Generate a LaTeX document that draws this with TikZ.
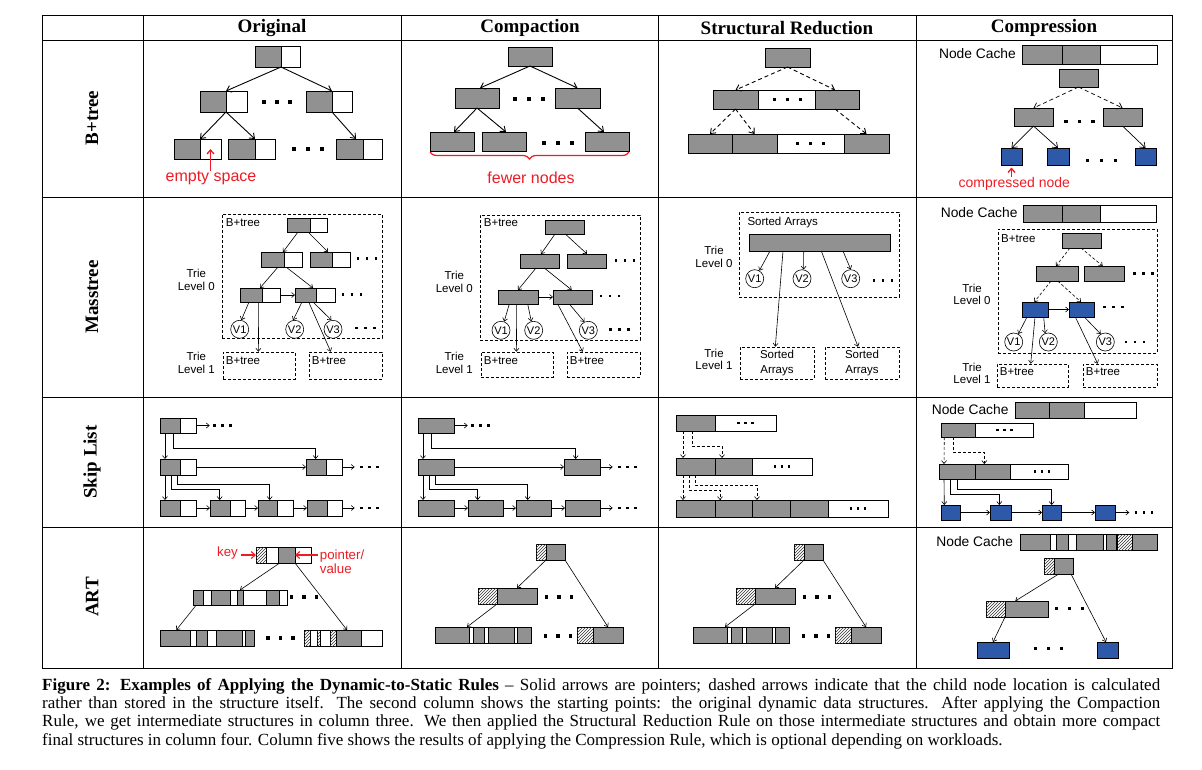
\documentclass[tikz,border=0pt]{standalone}
\usepackage{fontspec}
\setmainfont{Liberation Serif}
\newfontfamily\arial{Liberation Sans}
\usetikzlibrary{arrows.meta,patterns,decorations.pathreplacing}
\definecolor{ngray}{RGB}{145,145,145}
\definecolor{nblue}{RGB}{46,88,168}
\definecolor{nred}{RGB}{237,28,36}
\newcommand\mkbox[6]{\node[#2,minimum width={#5-#3},minimum height={#6-#4}] (#1) at ({(#3+#5)/2},{(#4+#6)/2}) {};}
\newcommand\tdots[4]{\foreach \k in {-1,0,1}{\fill ({#1+\k*#3-#4/2},{#2-#4/2}) rectangle ++(#4,#4);}}
\tikzset{
 cell/.style={draw, line width=0.8pt, inner sep=0pt, outer sep=0pt},
 gn/.style={cell, fill=ngray},
 wn/.style={cell, fill=white},
 bn/.style={cell, fill=nblue},
 hn/.style={cell, fill=white, postaction={pattern=north east lines, pattern color=black!80}},
 dbox/.style={draw, line width=0.6pt, inner sep=0pt, dash pattern=on 3pt off 2pt},
 arr/.style={draw, line width=0.9pt, -{Straight Barb[length=4.5pt,width=7pt]}},
 darr/.style={arr, dash pattern=on 4pt off 3pt},
 sarr/.style={draw, line width=0.6pt, -{Straight Barb[length=3pt,width=5pt]}},
 dsarr/.style={sarr, dash pattern=on 3pt off 2pt},
 rarr/.style={draw=nred, line width=1.3pt, -{Straight Barb[length=4pt,width=7pt]}},
 lbl/.style={font=\arial\fontsize{11.5}{12.7}\selectfont, inner sep=0pt, align=center},
 lblb/.style={font=\arial\fontsize{11.5}{14.7}\selectfont, inner sep=0pt, align=center},
 lblc/.style={font=\arial\fontsize{13.8}{16}\selectfont, inner sep=0pt},
 vc/.style={circle, draw, line width=0.6pt, minimum size=18pt, inner sep=0pt, font=\arial\fontsize{11}{12}\selectfont},
 rl16/.style={text=nred, font=\arial\fontsize{16}{18}\selectfont, inner sep=0pt},
 rl14/.style={text=nred, font=\arial\fontsize{14}{16}\selectfont, inner sep=0pt},
 rl13/.style={text=nred, font=\arial\fontsize{13.3}{14.4}\selectfont, inner sep=0pt, align=left},
 hdr/.style={font=\bfseries\fontsize{19}{22}\selectfont, inner sep=0pt},
 capl/.style={anchor=base west, inner sep=0pt, font=\fontsize{17}{18}\selectfont},
}
\begin{document}
\begin{tikzpicture}[x=1pt,y=-1pt]
\useasboundingbox (0,0) rectangle (1202,769);
% grid
\draw[line width=0.8pt] (42,15) rectangle (1172,668);
\foreach \y in {40,197,397,527} \draw[line width=0.8pt] (42,\y) -- (1172,\y);
\foreach \x in {143,401,658,916} \draw[line width=0.8pt] (\x,15) -- (\x,668);
\node[hdr] (h1) at (272,28) {Original};
\node[hdr] (h2) at (530,28) {Compaction};
\node[hdr] (h3) at (787,28) {Structural Reduction};
\node[hdr] (h4) at (1044,28) {Compression};
\node[hdr, rotate=90] (r1) at (92,118) {B+tree};
\node[hdr, rotate=90] (r2) at (92,297) {Masstree};
\node[hdr, rotate=90] (r3) at (92,462) {Skip List};
\node[hdr, rotate=90] (r4) at (92,597) {ART};

% ===== B+tree original
\mkbox{oR}{gn}{255}{46}{281}{67} \mkbox{oRw}{wn}{281}{46}{300}{67}
\mkbox{oA}{gn}{200}{91}{226}{112} \mkbox{oAw}{wn}{226}{91}{247}{112}
\mkbox{oB}{gn}{306}{91}{332}{112} \mkbox{oBw}{wn}{332}{91}{352}{112}
\mkbox{oC}{gn}{174}{139}{200}{159} \mkbox{oCw}{wn}{200}{139}{221}{159}
\mkbox{oD}{gn}{228}{139}{255}{159} \mkbox{oDw}{wn}{255}{139}{275}{159}
\mkbox{oE}{gn}{336}{139}{363}{159} \mkbox{oEw}{wn}{363}{139}{382}{159}
\tdots{277}{102}{13}{4}
\tdots{307.5}{149}{14}{4}
\draw[arr] (oR.south east) -- (oA.north east);
\draw[arr] (oR.south east) -- (oB.north east);
\draw[arr] (oA.south east) -- (oC.north east);
\draw[arr] (oA.south east) -- (oD.north east);
\draw[arr] (oB.south east) -- ([xshift=-7pt]oE.north east);
\node[rl16] (oL) at (211,178) {empty space};
\draw[rarr] (oL.north -| oCw.center) -- (oCw.center);

% ===== B+tree compaction
\mkbox{cR}{gn}{508}{47}{552}{66}
\mkbox{cA}{gn}{455}{88}{499}{108}
\mkbox{cB}{gn}{555}{88}{600}{108}
\mkbox{cC}{gn}{430}{132}{474}{151}
\mkbox{cD}{gn}{482}{132}{526}{151}
\mkbox{cE}{gn}{585}{132}{629}{151}
\tdots{529}{99}{14}{4}
\tdots{558}{143}{14}{4}
\draw[arr] (cR.south) -- ([xshift=3pt]cA.north);
\draw[arr] (cR.south) -- (cB.north);
\draw[arr] (cA.south) -- ([xshift=2pt]cC.north);
\draw[arr] (cA.south) -- ([xshift=2pt]cD.north);
\draw[arr] (cB.south) -- ([xshift=-3pt]cE.north);
\draw[nred, line width=1.2pt, decorate, decoration={brace, mirror, amplitude=7pt}] ([yshift=-1pt]cC.south west) -- ([yshift=-1pt]cE.south east);
\node[rl16] (cL) at (531,177.3) {fewer nodes};

% ===== B+tree structural reduction
\mkbox{sR}{gn}{765}{48}{810}{67}
\mkbox{sA}{gn}{713}{90}{758}{109} \mkbox{sAw}{wn}{758}{90}{815}{109} \mkbox{sB}{gn}{815}{90}{859}{109}
\mkbox{sC}{gn}{688}{134}{732}{153} \mkbox{sD}{gn}{732}{134}{777}{153} \mkbox{sDw}{wn}{777}{134}{844}{153} \mkbox{sE}{gn}{844}{134}{889}{153}
\tdots{787.3}{99.7}{13}{3.5}
\tdots{810.7}{143.7}{13}{3.5}
\draw[darr] (sR.south) -- (sA.north);
\draw[darr] (sR.south) -- ([xshift=-2pt]sB.north);
\draw[darr] (sA.south) -- (sC.north);
\draw[darr] (sA.south) -- (sD.north);
\draw[darr] ([xshift=-2pt]sB.south) -- (sE.north);

% ===== B+tree compression
\node[lblc, anchor=east] (nc1) at (1016,53.3) {Node Cache};
\mkbox{k1a}{gn}{1022}{45}{1062}{64} \mkbox{k1b}{gn}{1062}{45}{1100}{64} \mkbox{k1c}{wn}{1100}{45}{1157}{64}
\mkbox{pR}{gn}{1059}{69}{1098}{87}
\mkbox{pA}{gn}{1014}{108}{1053}{126}
\mkbox{pB}{gn}{1103}{108}{1142}{126}
\mkbox{pC}{bn}{1001}{148}{1022}{165}
\mkbox{pD}{bn}{1047}{148}{1069}{165}
\mkbox{pE}{bn}{1135}{148}{1156}{165}
\tdots{1079.5}{121.7}{13.5}{3.5}
\tdots{1101.5}{160.7}{13.8}{3.5}
\draw[darr, line width=0.7pt] (pR.south) -- (pA.north);
\draw[darr, line width=0.7pt] (pR.south) -- (pB.north);
\draw[arr, line width=0.7pt] (pA.south) -- (pC.north);
\draw[arr, line width=0.7pt] (pA.south) -- (pD.north);
\draw[arr, line width=0.7pt] (pB.south) -- (pE.north);
\node[rl14] (pL) at (1014.3,184) {compressed node};
\draw[rarr] (pL.north -| pC.south) -- ([yshift=-2.5pt]pC.south);

% ===== Masstree original
\mkbox{mT}{dbox}{222}{214}{382}{338}
\node[lbl, anchor=west] (mTl) at (225.7,223) {B+tree};
\mkbox{mR}{gn}{287}{218}{310}{232} \mkbox{mRw}{wn}{310}{218}{327}{232}
\mkbox{mA}{gn}{261}{252}{284}{267} \mkbox{mAw}{wn}{284}{252}{302}{267}
\mkbox{mB}{gn}{310}{252}{332}{267} \mkbox{mBw}{wn}{332}{252}{350}{267}
\mkbox{mC}{gn}{240}{288}{262}{302} \mkbox{mCw}{wn}{262}{288}{280}{302}
\mkbox{mD}{gn}{295}{288}{316}{302} \mkbox{mDw}{wn}{316}{288}{335}{302}
\node[vc] (mV1) at (239.7,329.3) {V1};
\node[vc] (mV2) at (294.7,329.3) {V2};
\node[vc] (mV3) at (333,329.3) {V3};
\tdots{367}{258.7}{9}{2.5} \tdots{352}{294.7}{9}{2.5} \tdots{365.5}{328}{9}{2.5}
\mkbox{mL1}{dbox}{223}{352}{295}{379} \mkbox{mL2}{dbox}{309}{352}{382}{379}
\node[lbl, anchor=west] (mL1t) at (225.7,360.3) {B+tree};
\node[lbl, anchor=west] (mL2t) at (311.7,360.3) {B+tree};
\node[lbl] (mT0) at (196.3,280) {Trie\\Level 0};
\node[lbl] (mT1) at (196.3,362.7) {Trie\\Level 1};
\draw[sarr] ([xshift=-12pt]mR.south east) -- ([xshift=-1pt]mA.north east);
\draw[sarr] ([xshift=-2pt]mR.south east) -- ([xshift=-4pt]mB.north east);
\draw[sarr] ([xshift=-6pt]mA.south east) -- ([xshift=-2pt]mC.north east);
\draw[sarr] ([xshift=2pt]mA.south east) -- ([xshift=-3pt]mD.north east);
\draw[sarr] (mCw.east) -- (mD.west);
\draw[sarr] ([xshift=-13pt]mC.south east) -- (mV1.80);
\draw[sarr] ([xshift=-3.3pt]mC.south east) -- ([xshift=35.7pt]mL1.north west);
\draw[sarr] ([xshift=-14pt]mD.south east) -- (mV2.100);
\draw[sarr] ([xshift=-7.3pt]mD.south east) -- ([xshift=22pt]mL2.north west);
\draw[sarr] ([xshift=-3pt]mD.south east) -- (mV3.100);

% ===== Masstree compaction
\mkbox{nT}{dbox}{480}{215}{640}{340}
\node[lbl, anchor=west] (nTl) at (483.7,223) {B+tree};
\mkbox{nR}{gn}{545}{220}{584}{234}
\mkbox{nA}{gn}{520}{254}{559}{268}
\mkbox{nB}{gn}{567}{254}{606}{268}
\mkbox{nC}{gn}{498}{290}{538}{304}
\mkbox{nD}{gn}{553}{290}{592}{304}
\node[vc] (nV1) at (501,330.3) {V1};
\node[vc] (nV2) at (533.7,330.3) {V2};
\node[vc] (nV3) at (588.3,330.3) {V3};
\tdots{625}{260.3}{9}{2.5} \tdots{610}{296}{9}{2.5} \tdots{619.3}{329.7}{9}{2.5}
\mkbox{nL1}{dbox}{481}{352}{553}{377} \mkbox{nL2}{dbox}{567}{352}{640}{377}
\node[lbl, anchor=west] (nL1t) at (483.7,360.3) {B+tree};
\node[lbl, anchor=west] (nL2t) at (569.7,360.3) {B+tree};
\node[lbl] (nT0) at (454.3,282) {Trie\\Level 0};
\node[lbl] (nT1) at (454.3,362.7) {Trie\\Level 1};
\draw[sarr] ([xshift=-9.5pt]nR.south) -- ([xshift=1.5pt]nA.north);
\draw[sarr] ([xshift=0.8pt]nR.south) -- ([xshift=0.5pt]nB.north);
\draw[sarr] ([xshift=-3.5pt]nA.south) -- (nC.north);
\draw[sarr] ([xshift=4.8pt]nA.south) -- ([xshift=-0.8pt]nD.north);
\draw[sarr] (nC.east) -- (nD.west);
\draw[sarr] ([xshift=-8.7pt]nC.south) -- (nV1.70);
\draw[sarr] ([xshift=-1.3pt]nC.south) -- ([xshift=35.7pt]nL1.north west);
\draw[sarr] ([xshift=9.7pt]nC.south) -- (nV2.105);
\draw[sarr] ([xshift=-14.8pt]nD.south) -- ([xshift=16pt]nL2.north west);
\draw[sarr] ([xshift=-3.2pt]nD.south) -- (nV3.115);

% ===== Masstree structural reduction
\mkbox{tT}{dbox}{739}{212}{899}{297}
\node[lbl, anchor=west] (tTl) at (747.3,223) {Sorted Arrays};
\mkbox{tA}{gn}{749}{234}{890}{251}
\node[vc] (tV1) at (754.7,278.7) {V1};
\node[vc] (tV2) at (802,278.7) {V2};
\node[vc] (tV3) at (850.7,278.7) {V3};
\tdots{883}{280.3}{9}{2.5}
\mkbox{tL1}{dbox}{740}{347}{814}{379} \mkbox{tL2}{dbox}{825}{347}{899}{379}
\node[lblb] (tL1t) at (tL1.center) {Sorted\\Arrays};
\node[lblb] (tL2t) at (tL2.center) {Sorted\\Arrays};
\node[lbl] (tT0) at (714,256.7) {Trie\\Level 0};
\node[lbl] (tT1) at (714,359.3) {Trie\\Level 1};
\draw[sarr] ([xshift=21pt]tA.south west) -- (tV1.60);
\draw[sarr] ([xshift=54.7pt]tA.south west) -- (tV2.80);
\draw[sarr] ([xshift=94pt]tA.south west) -- (tV3.north);
\draw[sarr] ([xshift=34pt]tA.south west) -- ([xshift=35.6pt]tL1.north west);
\draw[sarr] ([xshift=72.3pt]tA.south west) -- ([xshift=33.3pt]tL2.north west);

% ===== Masstree compression
\node[lblc, anchor=east] (nc2) at (1017.7,213) {Node Cache};
\mkbox{k2a}{gn}{1023}{205}{1062}{222} \mkbox{k2b}{gn}{1062}{205}{1100}{222} \mkbox{k2c}{wn}{1100}{205}{1156}{222}
\mkbox{uT}{dbox}{998}{229}{1157}{353}
\node[lbl, anchor=west] (uTl) at (1001,238.7) {B+tree};
\mkbox{uR}{gn}{1062}{233}{1101}{248}
\mkbox{uA}{gn}{1036}{266}{1078}{281}
\mkbox{uB}{gn}{1084}{266}{1124}{281}
\mkbox{uC}{bn}{1022}{302}{1048}{317}
\mkbox{uD}{bn}{1069}{302}{1094}{317}
\node[vc] (uV1) at (1013.7,342) {V1};
\node[vc] (uV2) at (1048.3,342) {V2};
\node[vc] (uV3) at (1105.3,342) {V3};
\tdots{1143.5}{273.7}{9}{2.5} \tdots{1113.5}{307}{9}{2.5} \tdots{1135}{342}{9}{2.5}
\mkbox{uL1}{dbox}{997}{364}{1068}{387} \mkbox{uL2}{dbox}{1083}{364}{1157}{387}
\node[lbl, anchor=west] (uL1t) at (999.7,371.3) {B+tree};
\node[lbl, anchor=west] (uL2t) at (1085.7,371.3) {B+tree};
\node[lbl] (uT0) at (972,294.3) {Trie\\Level 0};
\node[lbl] (uT1) at (972,373.3) {Trie\\Level 1};
\draw[dsarr] ([xshift=-11.5pt]uR.south) -- ([xshift=-1pt]uA.north);
\draw[dsarr] ([xshift=-0.5pt]uR.south) -- ([xshift=-1.3pt]uB.north);
\draw[dsarr] ([xshift=-6pt]uA.south) -- ([xshift=-0.7pt]uC.north);
\draw[dsarr] ([xshift=0.7pt]uA.south) -- ([xshift=-0.5pt]uD.north);
\draw[sarr] (uC.east) -- (uD.west);
\draw[sarr] ([xshift=-8pt]uC.south) -- (uV1.60);
\draw[sarr] (uC.south) -- ([xshift=34pt]uL1.north west);
\draw[sarr] ([xshift=8.7pt]uC.south) -- (uV2.110);
\draw[sarr] ([xshift=-6.2pt]uD.south) -- ([xshift=15pt]uL2.north west);
\draw[sarr] ([xshift=2.8pt]uD.south) -- (uV3.120);

% ===== Skip list original
\mkbox{a1}{gn}{160}{418}{180}{433} \mkbox{a1w}{wn}{180}{418}{196}{433}
\mkbox{b1}{gn}{160}{459}{180}{475} \mkbox{b1w}{wn}{180}{459}{196}{475}
\mkbox{b2}{gn}{306}{459}{326}{475} \mkbox{b2w}{wn}{326}{459}{342}{475}
\mkbox{c1}{gn}{160}{500}{180}{516} \mkbox{c1w}{wn}{180}{500}{196}{516}
\mkbox{c2}{gn}{210}{500}{230}{516} \mkbox{c2w}{wn}{230}{500}{245}{516}
\mkbox{c3}{gn}{258}{500}{277}{516} \mkbox{c3w}{wn}{277}{500}{293}{516}
\mkbox{c4}{gn}{307}{500}{327}{516} \mkbox{c4w}{wn}{327}{500}{342}{516}
\coordinate (a1e) at (209.7,425.5);
\coordinate (b2e) at (354.7,467);
\coordinate (c4e) at (354.7,508);
\tdots{222.5}{425.7}{8}{2.5} \tdots{369.7}{467}{8}{2.5} \tdots{369.7}{508}{8}{2.5}
\draw[sarr] (a1w.east) -- (a1e);
\draw[sarr] (b1w.east) -- (b2.west);
\draw[sarr] (b2w.east) -- (b2e);
\draw[sarr] (c1w.east) -- (c2.west);
\draw[sarr] (c2w.east) -- (c3.west);
\draw[sarr] (c3w.east) -- (c4.west);
\draw[sarr] (c4w.east) -- (c4e);
\draw[sarr] ([xshift=5pt]a1.south west) -- ([xshift=5pt]b1.north west);
\draw[sarr] ([xshift=13.7pt]a1.south west) -- ++(0,15) -| ([xshift=9.7pt]b2.north west);
\draw[sarr] ([xshift=5pt]b1.south west) -- ([xshift=5pt]c1.north west);
\draw[sarr] ([xshift=11pt]b1.south west) -- ++(0,14.6) -| ([xshift=9.7pt]c2.north west);
\draw[sarr] ([xshift=17pt]b1.south west) -- ++(0,9.6) -| ([xshift=11.7pt]c3.north west);

% ===== Skip list compaction
\mkbox{d1}{gn}{418}{418}{454}{433}
\mkbox{e1}{gn}{418}{459}{454}{475} \mkbox{e2}{gn}{564}{459}{600}{475}
\mkbox{f1}{gn}{418}{500}{454}{516} \mkbox{f2}{gn}{468}{500}{503}{516}
\mkbox{f3}{gn}{516}{500}{551}{516} \mkbox{f4}{gn}{565}{500}{600}{516}
\coordinate (d1e) at (467.7,425.5);
\coordinate (e2e) at (612.7,467);
\coordinate (f4e) at (612.7,508);
\tdots{480.5}{425.7}{8}{2.5} \tdots{627.7}{467}{8}{2.5} \tdots{627.7}{508}{8}{2.5}
\draw[sarr] (d1.east) -- (d1e);
\draw[sarr] (e1.east) -- (e2.west);
\draw[sarr] (e2.east) -- (e2e);
\draw[sarr] (f1.east) -- (f2.west);
\draw[sarr] (f2.east) -- (f3.west);
\draw[sarr] (f3.east) -- (f4.west);
\draw[sarr] (f4.east) -- (f4e);
\draw[sarr] ([xshift=5pt]d1.south west) -- ([xshift=5pt]e1.north west);
\draw[sarr] ([xshift=13.7pt]d1.south west) -- ++(0,15) -| ([xshift=11.7pt]e2.north west);
\draw[sarr] ([xshift=5pt]e1.south west) -- ([xshift=5pt]f1.north west);
\draw[sarr] ([xshift=11pt]e1.south west) -- ++(0,14.6) -| ([xshift=9.7pt]f2.north west);
\draw[sarr] ([xshift=17pt]e1.south west) -- ++(0,9.6) -| ([xshift=11.7pt]f3.north west);

% ===== Skip list structural reduction
\mkbox{s1a}{gn}{676}{415}{715}{431} \mkbox{s1w}{wn}{715}{415}{776}{431}
\mkbox{s2a}{gn}{676}{458}{715}{475} \mkbox{s2b}{gn}{715}{458}{752}{475} \mkbox{s2w}{wn}{752}{458}{812}{475}
\mkbox{s3a}{gn}{676}{500}{715}{517} \mkbox{s3b}{gn}{715}{500}{752}{517} \mkbox{s3c}{gn}{752}{500}{790}{517}
\mkbox{s3d}{gn}{790}{500}{828}{517} \mkbox{s3w}{wn}{828}{500}{888}{517}
\tdots{745.5}{423}{7}{2.5} \tdots{782}{466.5}{7}{2.5} \tdots{858}{508.5}{7}{2.5}
\draw[dsarr] ([xshift=7pt]s1a.south west) -- ([xshift=7pt]s2a.north west);
\draw[dsarr] ([xshift=16pt]s1a.south west) -- ++(0,15) -| ([xshift=7pt]s2b.north west);
\draw[dsarr] ([xshift=7pt]s2a.south west) -- ([xshift=7pt]s3a.north west);
\draw[dsarr] ([xshift=13pt]s2a.south west) -- ++(0,15) -| ([xshift=5pt]s3b.north west);
\draw[dsarr] ([xshift=19pt]s2a.south west) -- ++(0,10) -| ([xshift=5pt]s3c.north west);

% ===== Skip list compression
\node[lblc, anchor=east] (nc3) at (1008.7,409.7) {Node Cache};
\mkbox{k3a}{gn}{1015}{402}{1049}{418} \mkbox{k3b}{gn}{1049}{402}{1084}{418} \mkbox{k3c}{wn}{1084}{402}{1136}{418}
\mkbox{q1a}{gn}{941}{423}{975}{437} \mkbox{q1w}{wn}{975}{423}{1033}{437}
\mkbox{q2a}{gn}{939}{464}{975}{479} \mkbox{q2b}{gn}{975}{464}{1010}{479} \mkbox{q2w}{wn}{1010}{464}{1068}{479}
\mkbox{q3a}{bn}{941}{505}{960}{520} \mkbox{q3b}{bn}{990}{505}{1011}{520}
\mkbox{q3c}{bn}{1042}{505}{1061}{520} \mkbox{q3d}{bn}{1095}{505}{1115}{520}
\coordinate (q3e) at (1129.3,512.5);
\tdots{1004.3}{430}{7}{2.5} \tdots{1042}{471.3}{7}{2.5} \tdots{1144}{512.5}{8}{2.5}
\draw[dsarr] ([xshift=3.3pt]q1a.south west) -- ([xshift=5pt]q2a.north west);
\draw[dsarr] ([xshift=12pt]q1a.south west) -- ++(0,15) -| ([xshift=9.3pt]q2b.north west);
\draw[sarr] ([xshift=5pt]q2a.south west) -- ([xshift=3.3pt]q3a.north west);
\draw[sarr] ([xshift=11.3pt]q2a.south west) -- ++(0,15) -| ([xshift=9.3pt]q3b.north west);
\draw[sarr] ([xshift=18pt]q2a.south west) -- ++(0,10) -| ([xshift=9.7pt]q3c.north west);
\draw[sarr] (q3a.east) -- (q3b.west);
\draw[sarr] (q3b.east) -- (q3c.west);
\draw[sarr] (q3c.east) -- (q3d.west);
\draw[sarr] (q3d.east) -- (q3e);

% ===== ART original
\mkbox{w1}{hn}{256}{547}{266}{563} \mkbox{w2}{wn}{266}{547}{278}{563} \mkbox{w3}{gn}{278}{547}{295}{563} \mkbox{w4}{wn}{295}{547}{311}{563}
\node[rl13, anchor=east] (keyL) at (238,553) {key};
\node[rl13, anchor=west] (ptrL) at (319.7,561.5) {pointer/\\value};
\draw[rarr, line width=1.1pt] ([xshift=3pt]keyL.east |- w1.west) -- (w1.west);
\draw[rarr, line width=1.1pt] ([xshift=-2pt]ptrL.west |- w3.east) -- (w3.east);
\mkbox{x1}{gn}{193}{590}{203}{605} \mkbox{x2}{wn}{203}{590}{211}{605} \mkbox{x3}{gn}{211}{590}{230}{605}
\mkbox{x4}{wn}{230}{590}{237}{605} \mkbox{x5}{gn}{237}{590}{243}{605} \mkbox{x6}{wn}{243}{590}{266}{605}
\mkbox{x7}{gn}{266}{590}{279}{605} \mkbox{x8}{wn}{279}{590}{287}{605}
\mkbox{y1}{gn}{160}{630}{190}{646} \mkbox{y2}{wn}{190}{630}{196}{646} \mkbox{y3}{gn}{196}{630}{207}{646}
\mkbox{y4}{wn}{207}{630}{216}{646} \mkbox{y5}{gn}{216}{630}{242}{646} \mkbox{y6}{wn}{242}{630}{245}{646}
\mkbox{y7}{gn}{245}{630}{254}{646}
\mkbox{z1}{hn}{304}{630}{310}{646} \mkbox{z2}{wn}{310}{630}{317}{646} \mkbox{z3}{hn}{317}{630}{320}{646}
\mkbox{z4}{wn}{320}{630}{330}{646} \mkbox{z5}{hn}{330}{630}{336}{646} \mkbox{z6}{gn}{336}{630}{361}{646}
\mkbox{z7}{wn}{361}{630}{382}{646}
\tdots{303.8}{597}{12.5}{3.5} \tdots{280.5}{638}{12.5}{3.5}
\draw[sarr] ([xshift=1.7pt]w3.south west) -- (x5.north);
\draw[sarr] (w3.south east) -- ([xshift=-1.5pt]z6.north);
\draw[sarr] ([xshift=-1.7pt]x1.south) -- ([xshift=1.3pt]y1.north);

% ===== ART compaction
\mkbox{g1}{hn}{536}{544}{546}{560} \mkbox{g2}{gn}{546}{544}{565}{560}
\mkbox{i1}{hn}{478}{588}{497}{604} \mkbox{i2}{gn}{497}{588}{537}{604}
\mkbox{j1}{gn}{435}{627}{469}{643} \mkbox{j2}{wn}{469}{627}{473}{643} \mkbox{j3}{gn}{473}{627}{484}{643}
\mkbox{j4}{wn}{484}{627}{488}{643} \mkbox{j5}{gn}{488}{627}{514}{643} \mkbox{j6}{wn}{514}{627}{517}{643}
\mkbox{j7}{gn}{517}{627}{531}{643}
\mkbox{l1}{hn}{577}{627}{593}{643} \mkbox{l2}{gn}{593}{627}{623}{643}
\tdots{559}{597}{12.5}{3.5} \tdots{558}{636}{12.5}{3.5}
\draw[sarr] (g2.south west) -- (i2.north);
\draw[sarr] (g2.south east) -- (l2.north);
\draw[sarr] (i1.south east) -- ([xshift=-2pt]j1.north east);

% ===== ART structural reduction
\mkbox{G1}{hn}{794}{544}{804}{560} \mkbox{G2}{gn}{804}{544}{823}{560}
\mkbox{I1}{hn}{736}{588}{755}{604} \mkbox{I2}{gn}{755}{588}{795}{604}
\mkbox{J1}{gn}{693}{627}{727}{643} \mkbox{J2}{wn}{727}{627}{731}{643} \mkbox{J3}{gn}{731}{627}{742}{643}
\mkbox{J4}{wn}{742}{627}{746}{643} \mkbox{J5}{gn}{746}{627}{772}{643} \mkbox{J6}{wn}{772}{627}{775}{643}
\mkbox{J7}{gn}{775}{627}{789}{643}
\mkbox{L1}{hn}{835}{627}{851}{643} \mkbox{L2}{gn}{851}{627}{881}{643}
\tdots{817}{597}{12.5}{3.5} \tdots{816}{636}{12.5}{3.5}
\draw[sarr] (G2.south west) -- (I2.north);
\draw[sarr] (G2.south east) -- (L2.north);
\draw[sarr] (I1.south east) -- ([xshift=-2pt]J1.north east);

% ===== ART compression
\node[lblc, anchor=east] (nc4) at (1013.3,542) {Node Cache};
\mkbox{v1}{gn}{1020}{534}{1050}{550} \mkbox{v2}{wn}{1050}{534}{1056}{550} \mkbox{v3}{gn}{1056}{534}{1068}{550}
\mkbox{v4}{wn}{1068}{534}{1076}{550} \mkbox{v5}{gn}{1076}{534}{1103}{550} \mkbox{v6}{wn}{1103}{534}{1106}{550}
\mkbox{v7}{gn}{1106}{534}{1116.5}{550} \mkbox{v8}{hn}{1117.5}{534}{1132}{550} \mkbox{v9}{gn}{1132}{534}{1157}{550}
\mkbox{P1}{hn}{1044}{558}{1054}{574} \mkbox{P2}{gn}{1054}{558}{1073}{574}
\mkbox{Q1}{hn}{986}{601}{1005}{617} \mkbox{Q2}{gn}{1005}{601}{1048}{617}
\mkbox{S1}{bn}{977}{642}{1009}{658} \mkbox{S2}{bn}{1097}{642}{1118}{658}
\tdots{1069.3}{608.7}{13}{3.5} \tdots{1048.5}{648.7}{13}{3.5}
\draw[sarr] ([xshift=-4.8pt]P2.south) -- ([xshift=-11.2pt]Q2.north);
\draw[sarr] ([xshift=7.5pt]P2.south) -- ([xshift=-1.5pt]S2.north);
\draw[sarr] (Q1.south east) -- (S1.north);

% ===== caption
\node[capl] (cap1) at (42,690) {\hbox to 1118pt{\textbf{Figure 2: Examples of Applying the Dynamic-to-Static Rules} – Solid arrows are pointers; dashed arrows indicate that the child node location is calculated}};
\node[capl] (cap2) at (42,708) {\hbox to 1118pt{rather than stored in the structure itself. The second column shows the starting points: the original dynamic data structures. After applying the Compaction}};
\node[capl] (cap3) at (42,726) {\hbox to 1118pt{Rule, we get intermediate structures in column three. We then applied the Structural Reduction Rule on those intermediate structures and obtain more compact}};
\node[capl] (cap4) at (42,745) {final structures in column four. Column five shows the results of applying the Compression Rule, which is optional depending on workloads.};
\end{tikzpicture}
\end{document}
